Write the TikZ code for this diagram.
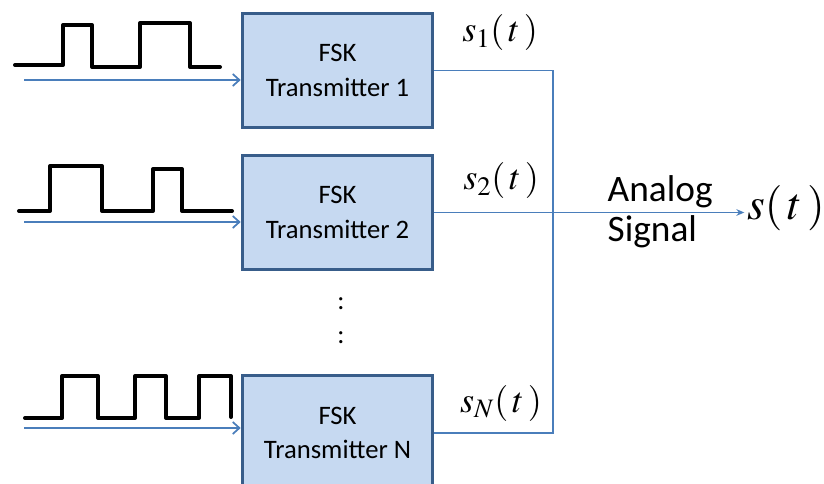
\documentclass[tikz,border=0pt]{standalone}
\usepackage{amsmath}
\usepackage{mathptmx}
\usepackage[no-math]{fontspec}
\setmainfont{Carlito}
\usepackage{tikz}
\usetikzlibrary{positioning,arrows,arrows.meta}

\definecolor{boxfill}{HTML}{C6D9F1}
\definecolor{boxedge}{HTML}{385D8A}
\definecolor{wire}{HTML}{4A7EBB}

\begin{document}
\begin{tikzpicture}[x=0.75pt,y=-0.75pt]
\tikzset{
  txbox/.style={draw=boxedge, line width=2.2pt, fill=boxfill, minimum width=143pt, minimum height=86pt, align=center, font=\fontsize{20}{26}\selectfont},
  pulse/.style={line width=3pt, line join=round, line cap=round},
  wire/.style={draw=wire, line width=1.3pt},
  inarrow/.style={wire, -{Straight Barb[length=5pt,width=9pt]}},
  sig/.style={font=\fontsize{27}{32}\selectfont}
}
\useasboundingbox (0,0) rectangle (824,484);

% transmitters
\node[txbox] (tx1) at (337.5,70.5) {FSK\\Transmitter 1};
\node[txbox] (tx2) at (337.5,212.5) {FSK\\Transmitter 2};
\node[txbox] (tx3) at (337.5,433) {FSK\\Transmitter N};
\node[font=\fontsize{20}{24}\selectfont] (dots1) at (341,304) {:};
\node[font=\fontsize{20}{24}\selectfont] (dots2) at (341,338) {:};

% bit streams
\draw[pulse] (15,65) -- (63,65) -- (63,25) -- (92,25) -- (92,67) -- (140,67) -- (140,23) -- (190,23) -- (190,67) -- (220,67);
\draw[pulse] (19,211) -- (50,211) -- (50,166) -- (102,166) -- (102,211) -- (153,211) -- (153,169) -- (182,169) -- (182,211) -- (232,211);
\draw[pulse] (25,418) -- (62,418) -- (62,376) -- (98,376) -- (98,418) -- (135,418) -- (135,376) -- (166,376) -- (166,418) -- (199,418) -- (199,376) -- (231,376) -- (231,417);

\coordinate (in1) at (24,80);
\coordinate (in2) at (24,222);
\coordinate (in3) at (24,428);
\draw[inarrow] (in1) -- (in1 -| tx1.west);
\draw[inarrow] (in2) -- (in2 -| tx2.west);
\draw[inarrow] (in3) -- (in3 -| tx3.west);

% summing bus
\coordinate (jn) at (553,212.5);
\draw[wire] (tx1.east) -| (jn) |- (tx3.east);
\node[sig] (s1) at (500,33) {$s_1(\,t\,)$};
\node[sig] (s2) at (501,181) {$s_2(\,t\,)$};
\node[sig] (sN) at (501,403) {$s_N(\,t\,)$};

\node[font=\fontsize{28}{30}\selectfont, align=left, anchor=west] (lbl) at (603,212) {Analog\\Signal};
\node[font=\fontsize{34}{40}\selectfont, anchor=west, inner sep=0pt] (out) at (747,208) {$s(\,t\mkern2mu)$};
\draw[wire, -{Stealth[length=6pt,width=5pt]}] (tx2.east) -- ([xshift=-2pt]out.west |- tx2.east);
\end{tikzpicture}
\end{document}
